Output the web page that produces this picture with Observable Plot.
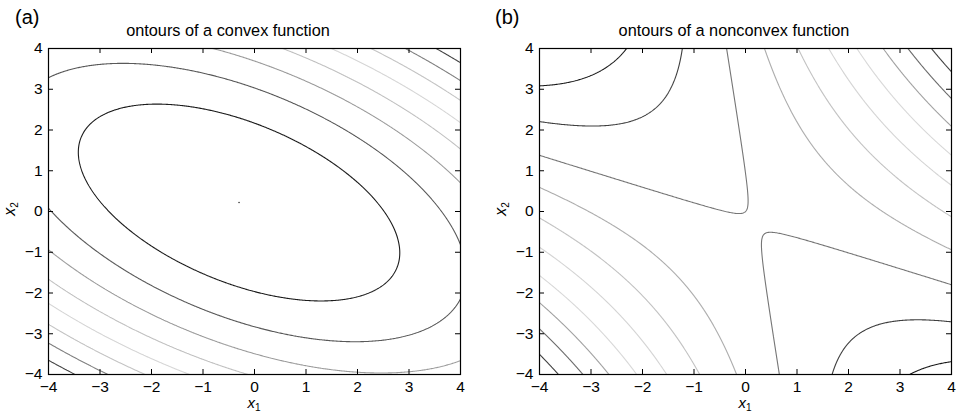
<!DOCTYPE html>
<html>
<head>
<meta charset="utf-8">
<script src="https://cdn.jsdelivr.net/npm/d3@7"></script>
<script src="https://cdn.jsdelivr.net/npm/@observablehq/plot@0.6"></script>
<style>
  html, body { margin: 0; padding: 0; background: #fff; }
  #wrap { position: relative; width: 961px; height: 413px; overflow: hidden;
          font-family: "Liberation Sans", Arial, Helvetica, sans-serif; color: #000; }
  .panel { position: absolute; top: 0; }
  .lbl { position: absolute; white-space: nowrap; }
  .lbl sub { font-size: 10px; vertical-align: -2.5px; line-height: 0; }
</style>
</head>
<body>
<div id="wrap"></div>
<script>
// ---------- data ----------
const axisTicks = [-4, -3, -2, -1, 0, 1, 2, 3, 4];
const panelLetters = ["(a)", "(b)"];
const panelTitles = ["ontours of a convex function", "ontours of a nonconvex function"];
const axisLabelX = ["x", "1"];
const axisLabelY = ["x", "2"];

// convex quadratic: f = a*dx^2 + 2*b*dx*dy + c*dy^2 about its minimum
const convexCenter = [-0.3, 0.22];
const convexQuad = [1, 0.66, 1.67];
const convexLevels = [7.2, 14.4, 21.6, 28.8, 36, 43.2, 50.4, 57.6];

// nonconvex saddle: f = s0 + (A·d)(B·d), d = x - saddle
const saddlePoint = [0.18, -0.28];
const saddleValue = 0.03;
const saddleFormA = [0.395, 1];
const saddleFormB = [1, 0.126];
const nonconvexLevels = [-6.4, -3.2, 0, 3.2, 6.4, 9.6, 12.8, 16, 19.2, 22.4];

// ---------- functions ----------
const convexF = (x, y) => {
  const dx = x - convexCenter[0], dy = y - convexCenter[1];
  const [a, b, c] = convexQuad;
  return a * dx * dx + 2 * b * dx * dy + c * dy * dy;
};
const nonconvexF = (x, y) => {
  const dx = x - saddlePoint[0], dy = y - saddlePoint[1];
  return saddleValue +
    (saddleFormA[0] * dx + saddleFormA[1] * dy) * (saddleFormB[0] * dx + saddleFormB[1] * dy);
};

// jet colormap rendered in grayscale (luminance)
function jetGray(t) {
  const c = v => Math.max(0, Math.min(1, v));
  const r = c(1.5 - Math.abs(4 * t - 3));
  const g = c(1.5 - Math.abs(4 * t - 2));
  const b = c(1.5 - Math.abs(4 * t - 1));
  const y = Math.round(255 * (0.299 * r + 0.587 * g + 0.114 * b));
  return `rgb(${y},${y},${y})`;
}
function zExtent(f) {
  let lo = Infinity, hi = -Infinity;
  for (let i = 0; i <= 160; i++) for (let j = 0; j <= 160; j++) {
    const v = f(-4 + i * 0.05, -4 + j * 0.05);
    if (v < lo) lo = v; if (v > hi) hi = v;
  }
  return [lo, hi];
}

const fmt = d => (d < 0 ? "\u2212" + Math.abs(d) : String(d));
const FONT = '"Liberation Sans", Arial, Helvetica, sans-serif';
const plotH = 326, plotW = 412, tickLen = 5;

function makePanel(fn, levels, marginLeft, marginRight, width, extra) {
  const [zmin, zmax] = zExtent(fn);
  const contourMarks = levels.map(L => Plot.contour({
    value: fn, x1: -4.3, x2: 4.3, y1: -4.3, y2: 4.3,
    thresholds: [L], fill: "none",
    stroke: jetGray((L - zmin) / (zmax - zmin)),
    strokeWidth: 1.1, pixelSize: 1, clip: true
  }));
  return Plot.plot({
    width, height: 413,
    marginTop: 48, marginBottom: 39, marginLeft, marginRight,
    x: {domain: [-4, 4]},
    y: {domain: [-4, 4]},
    style: {fontFamily: FONT, fontSize: "15.5px", color: "#000", background: "transparent"},
    marks: [
      ...contourMarks,
      ...extra,
      Plot.tickX(axisTicks, {x: d => d, insetTop: plotH - tickLen, stroke: "#000"}),
      Plot.tickX(axisTicks, {x: d => d, insetBottom: plotH - tickLen, stroke: "#000"}),
      Plot.tickY(axisTicks, {y: d => d, insetRight: plotW - tickLen, stroke: "#000"}),
      Plot.tickY(axisTicks, {y: d => d, insetLeft: plotW - tickLen, stroke: "#000"}),
      Plot.frame({stroke: "#000", strokeWidth: 1.2}),
      Plot.axisX(axisTicks, {tickSize: 0, tickPadding: 6, tickFormat: fmt, label: null, fontSize: 15.5}),
      Plot.axisY(axisTicks, {tickSize: 0, tickPadding: 6, tickFormat: fmt, label: null, fontSize: 15.5})
    ]
  });
}

const wrap = document.getElementById("wrap");
const panels = [
  {left: 0, width: 480, ml: 48, mr: 20, fn: convexF, levels: convexLevels,
   extra: [Plot.dot([convexCenter], {x: d => d[0], y: d => d[1], r: 0.8, fill: "#333", stroke: null})],
   letterX: 15, titleX: 228, xlabX: 254, ylabX: 9.6},
  {left: 480, width: 481, ml: 59, mr: 10, fn: nonconvexF, levels: nonconvexLevels, extra: [],
   letterX: 495, titleX: 734, xlabX: 745, ylabX: 501}
];

panels.forEach((p, i) => {
  const div = document.createElement("div");
  div.className = "panel";
  div.style.left = p.left + "px";
  div.appendChild(makePanel(p.fn, p.levels, p.ml, p.mr, p.width, p.extra));
  wrap.appendChild(div);

  const letter = document.createElement("div");
  letter.className = "lbl";
  letter.style.cssText = `left:${p.letterX}px;top:7px;font-size:20px;line-height:20px;`;
  letter.textContent = panelLetters[i];
  wrap.appendChild(letter);

  const title = document.createElement("div");
  title.className = "lbl";
  title.style.cssText = `left:${p.titleX}px;top:22px;font-size:16.3px;line-height:16px;transform:translateX(-50%);`;
  title.textContent = panelTitles[i];
  wrap.appendChild(title);

  const xl = document.createElement("div");
  xl.className = "lbl";
  xl.style.cssText = `left:${p.xlabX}px;top:397.8px;font-size:15px;line-height:10px;transform:translateX(-50%);`;
  xl.innerHTML = `<i>${axisLabelX[0]}</i><sub>${axisLabelX[1]}</sub>`;
  wrap.appendChild(xl);

  const yl = document.createElement("div");
  yl.className = "lbl";
  yl.style.cssText = `left:${p.ylabX}px;top:209px;font-size:16px;line-height:16px;transform:translate(-50%,-50%) rotate(-90deg);`;
  yl.innerHTML = `<i>${axisLabelY[0]}</i><sub>${axisLabelY[1]}</sub>`;
  wrap.appendChild(yl);
});
</script>
</body>
</html>
